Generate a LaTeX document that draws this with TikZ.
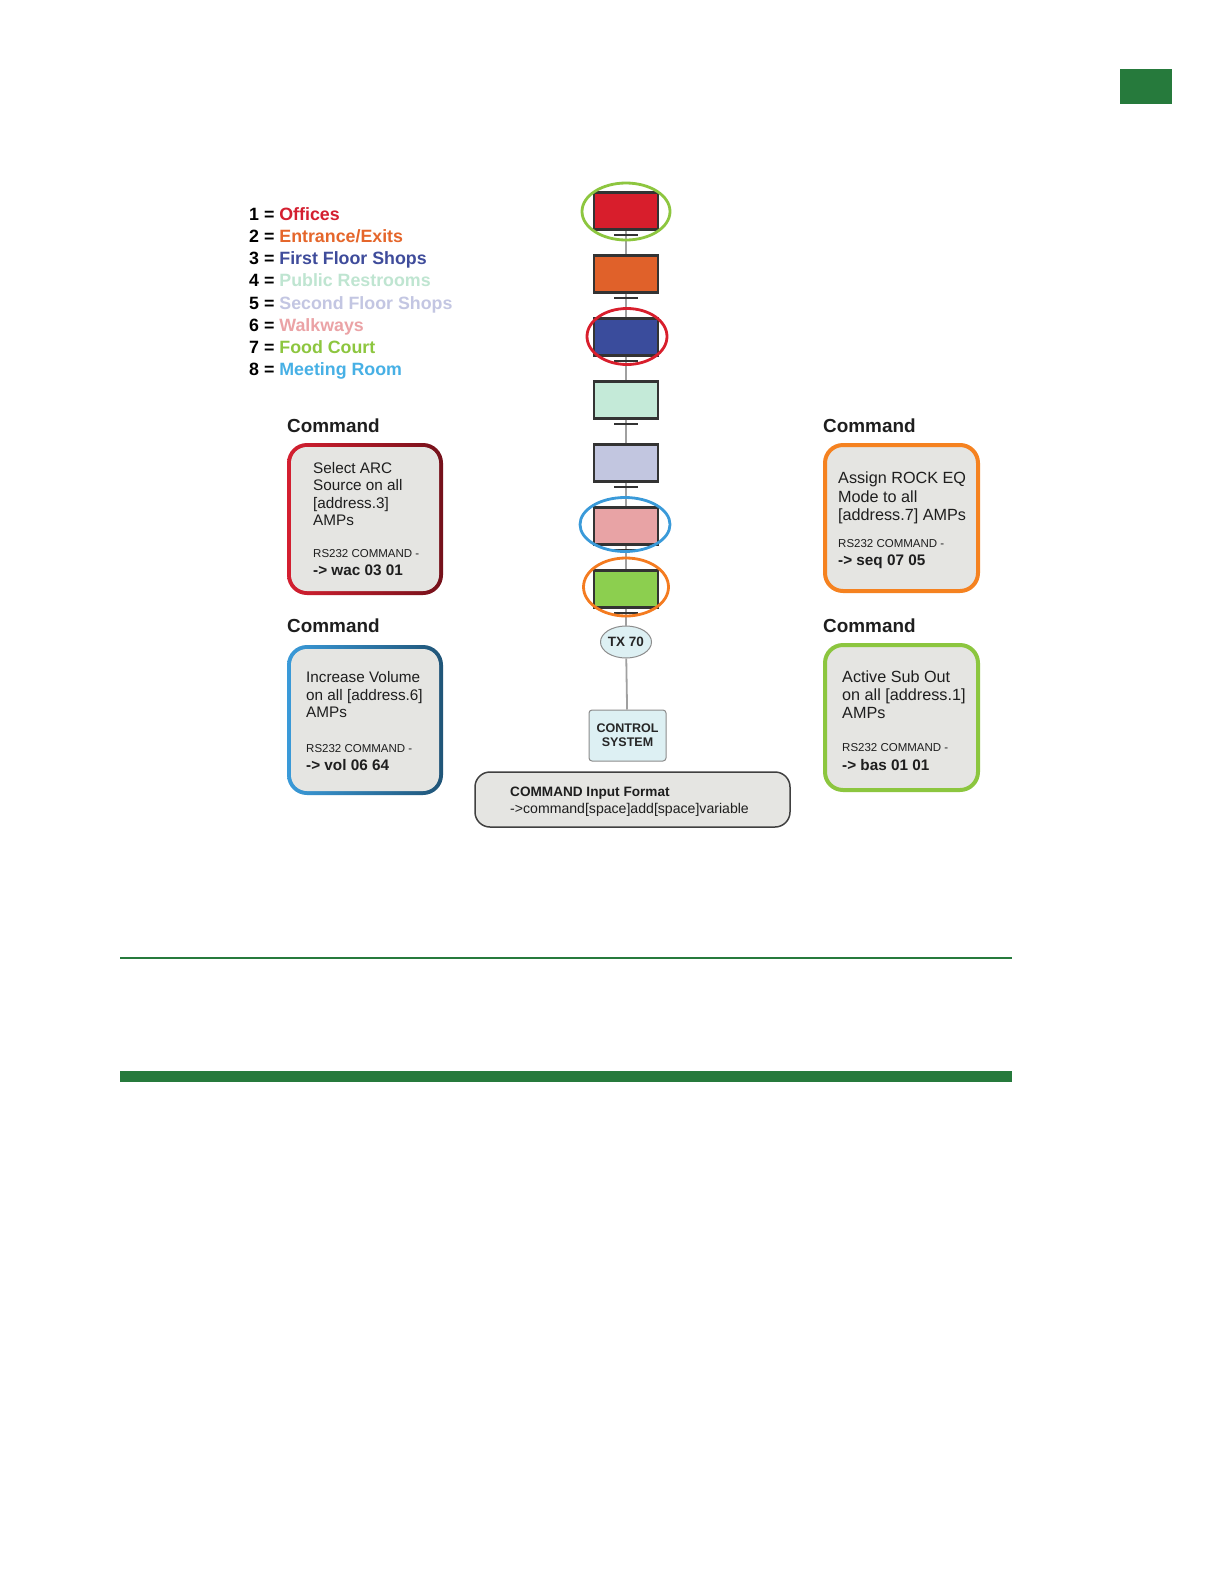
\documentclass[tikz,border=0pt]{standalone}
\usepackage{fontspec}
\setmainfont{Liberation Sans}
\usetikzlibrary{shapes.geometric}
\definecolor{dkgreen}{HTML}{267A3C}
\definecolor{cOff}{HTML}{D41F30}
\definecolor{cEnt}{HTML}{E5662B}
\definecolor{cFirst}{HTML}{3F4C9B}
\definecolor{cRest}{HTML}{BFE5D1}
\definecolor{cSecond}{HTML}{C3C6E2}
\definecolor{cWalk}{HTML}{EBA3A6}
\definecolor{cFood}{HTML}{8DC63F}
\definecolor{cMeet}{HTML}{47B0E5}
\definecolor{sRed}{HTML}{D81E2C}
\definecolor{sOrange}{HTML}{E0612A}
\definecolor{sNavy}{HTML}{3A4C9C}
\definecolor{sMint}{HTML}{C4EAD8}
\definecolor{sLav}{HTML}{C2C6E0}
\definecolor{sPink}{HTML}{E8A3A5}
\definecolor{sGreen}{HTML}{8CCF4F}
\definecolor{boxgray}{HTML}{E5E5E2}
\definecolor{paleblue}{HTML}{DDF0F3}
\definecolor{lineg}{HTML}{A0A0A0}
\definecolor{eGreen}{HTML}{8DC63F}
\definecolor{eRed}{HTML}{D81E2C}
\definecolor{eBlue}{HTML}{3A9AD9}
\definecolor{eOrange}{HTML}{F47B20}
\definecolor{bOrange}{HTML}{F58220}
\definecolor{bGreen}{HTML}{8CC63F}
\definecolor{txt}{HTML}{1E1E1E}
\begin{document}
\begin{tikzpicture}[x=1pt,y=-1pt,
  legtxt/.style={anchor=base west, inner sep=0, font=\fontsize{17.8}{20}\selectfont\bfseries},
  headtxt/.style={anchor=base west, inner sep=0, font=\fontsize{18.9}{22}\selectfont\bfseries, text=txt},
  bodyl/.style={anchor=base west, inner sep=0, font=\fontsize{15.3}{17}\selectfont, text=txt},
  bodyr/.style={anchor=base west, inner sep=0, font=\fontsize{16.2}{18}\selectfont, text=txt},
  smalltxt/.style={anchor=base west, inner sep=0, font=\fontsize{11.5}{13}\selectfont, text=txt},
  cmdtxt/.style={anchor=base west, inner sep=0, font=\fontsize{15.3}{17}\selectfont\bfseries, text=txt},
  tvbox/.style={draw=black!80, line width=2.2pt, minimum width=64pt, minimum height=37pt, inner sep=0},
  tvstand/.style={draw=black!80, line width=2.2pt},
  ringline/.style={line width=2.8pt},
  connline/.style={draw=lineg, line width=1.8pt},
  smallbox/.style={draw=black!45, line width=1pt, fill=paleblue, font=\fontsize{12.5}{15}\selectfont\bfseries, text=black!85, inner sep=0}
]
\useasboundingbox (0,0) rectangle (1225,1585);
\fill[white] (0,0) rectangle (1225,1585);

% page decorations
\fill[dkgreen] (1120,69) rectangle (1172,104);
\draw[dkgreen, line width=1.2pt] (120,958) -- (1012,958);
\fill[dkgreen] (120,1071) rectangle (1012,1082);

% legend
\node[legtxt] (l1) at (249,220) {1 = \textcolor{cOff}{Offices}};
\node[legtxt] (l2) at (249,242) {2 = \textcolor{cEnt}{Entrance/Exits}};
\node[legtxt] (l3) at (249,264) {3 = \textcolor{cFirst}{First Floor Shops}};
\node[legtxt] (l4) at (249,286) {4 = \textcolor{cRest}{Public Restrooms}};
\node[legtxt] (l5) at (249,309) {5 = \textcolor{cSecond}{Second Floor Shops}};
\node[legtxt] (l6) at (249,331) {6 = \textcolor{cWalk}{Walkways}};
\node[legtxt] (l7) at (249,353) {7 = \textcolor{cFood}{Food Court}};
\node[legtxt] (l8) at (249,375) {8 = \textcolor{cMeet}{Meeting Room}};

% TVs
\node[tvbox, fill=sRed]    (tv1) at (626,211) {};
\node[tvbox, fill=sOrange] (tv2) at (626,274) {};
\node[tvbox, fill=sNavy]   (tv3) at (626,337) {};
\node[tvbox, fill=sMint]   (tv4) at (626,400) {};
\node[tvbox, fill=sLav]    (tv5) at (626,463) {};
\node[tvbox, fill=sPink]   (tv6) at (626,526) {};
\node[tvbox, fill=sGreen]  (tv7) at (626,589) {};
\node[ellipse, smallbox, minimum width=51pt, minimum height=32pt, font=\fontsize{13.5}{15}\selectfont\bfseries] (tx) at (626,642) {TX 70};
\node[smallbox, rounded corners=3pt, minimum width=77pt, minimum height=51pt, align=center] (ctrl) at (627.5,735.5) {CONTROL\\[-1pt]SYSTEM};

% connectors
\draw[connline] (tv1) -- (tv2);
\draw[connline] (tv2) -- (tv3);
\draw[connline] (tv3) -- (tv4);
\draw[connline] (tv4) -- (tv5);
\draw[connline] (tv5) -- (tv6);
\draw[connline] (tv6) -- (tv7);
\draw[connline] (tv7) -- (tx);
\draw[connline] (tx) -- (ctrl);

% stands
\foreach \t in {tv1,tv2,tv3,tv4,tv5,tv6,tv7}{
  \draw[tvstand] ([xshift=-12pt,yshift=-4pt]\t.south) -- ([xshift=12pt,yshift=-4pt]\t.south);
}

% rings
\draw[ringline, eGreen]  (626,211.5) ellipse [x radius=44, y radius=28.5];
\draw[ringline, eRed]    (627,336.5) ellipse [x radius=40, y radius=28];
\draw[ringline, eBlue]   (625,524.5) ellipse [x radius=45, y radius=27];
\draw[ringline, eOrange] (626,587) ellipse [x radius=42.5, y radius=29];

% headings
\node[headtxt] (h1) at (287,432) {Command};
\node[headtxt] (h2) at (287,632) {Command};
\node[headtxt] (h3) at (823,432) {Command};
\node[headtxt] (h4) at (823,632) {Command};

% red box
\shade[left color=cOff, right color=cOff!55!black, rounded corners=20pt] (287,443) rectangle (443,595);
\fill[boxgray, rounded corners=16pt] (291,447) rectangle (439,591);
\node[bodyl] (r1) at (313,473) {Select ARC};
\node[bodyl] (r2) at (313,490.5) {Source on all};
\node[bodyl] (r3) at (313,508) {[address.3]};
\node[bodyl] (r4) at (313,525.5) {AMPs};
\node[smalltxt] (r5) at (313,557) {RS232 COMMAND -};
\node[cmdtxt]  (r6) at (313,575) {-> wac 03 01};

% blue box
\shade[left color=eBlue, right color=eBlue!55!black, rounded corners=20pt] (287,645) rectangle (443,795);
\fill[boxgray, rounded corners=16pt] (291,649) rectangle (439,791);
\node[bodyl] (b1) at (306,682) {Increase Volume};
\node[bodyl] (b2) at (306,700) {on all [address.6]};
\node[bodyl] (b3) at (306,717) {AMPs};
\node[smalltxt] (b4) at (306,752) {RS232 COMMAND -};
\node[cmdtxt]  (b5) at (306,770) {-> vol 06 64};

% orange box
\draw[bOrange, line width=4pt, fill=boxgray, rounded corners=18pt] (825,445) rectangle (978,591);
\node[bodyr] (o1) at (838,483.5) {Assign ROCK EQ};
\node[bodyr] (o2) at (838,502) {Mode to all};
\node[bodyr] (o3) at (838,520.5) {[address.7] AMPs};
\node[smalltxt] (o4) at (838,547) {RS232 COMMAND -};
\node[cmdtxt]  (o5) at (838,565.5) {-> seq 07 05};

% green box
\draw[bGreen, line width=4pt, fill=boxgray, rounded corners=18pt] (825,645) rectangle (978,790);
\node[bodyr] (g1) at (842,682) {Active Sub Out};
\node[bodyr] (g2) at (842,700) {on all [address.1]};
\node[bodyr] (g3) at (842,718) {AMPs};
\node[smalltxt] (g4) at (842,751) {RS232 COMMAND -};
\node[cmdtxt]  (g5) at (842,770.5) {-> bas 01 01};

% input format box
\draw[black!75, line width=1.5pt, fill=boxgray, rounded corners=15pt] (475,772) rectangle (790,827);
\node[anchor=base west, inner sep=0, font=\fontsize{13.6}{15}\selectfont\bfseries, text=txt] (f1) at (510,796) {COMMAND Input Format};
\node[anchor=base west, inner sep=0, font=\fontsize{14.1}{15}\selectfont, text=txt] (f2) at (510,813.5) {->command[space]add[space]variable};
\end{tikzpicture}
\end{document}
